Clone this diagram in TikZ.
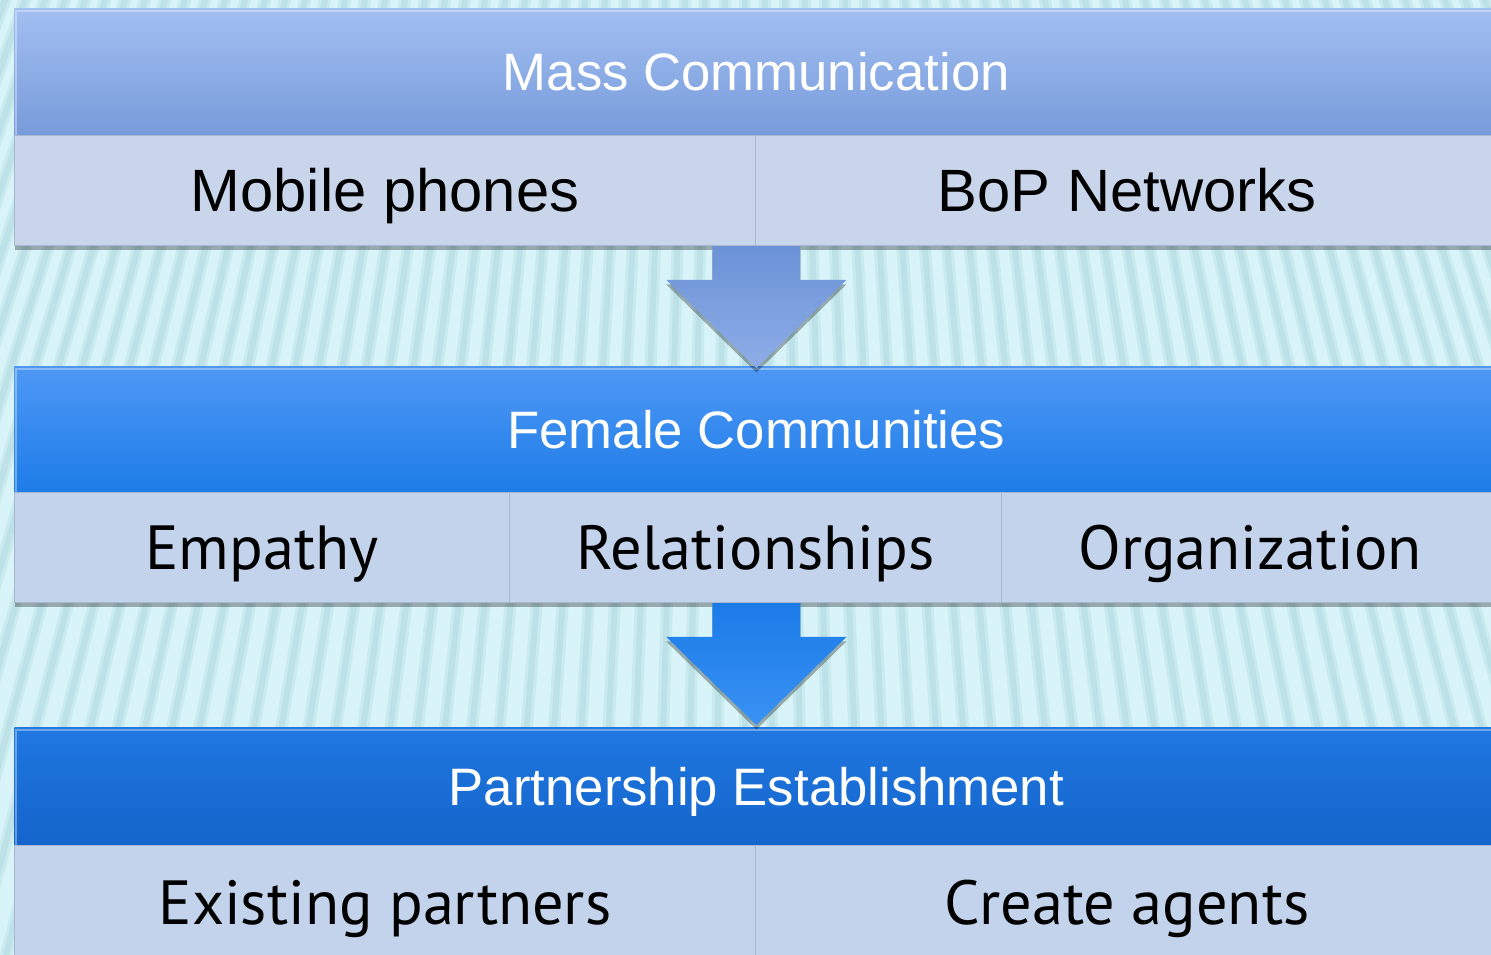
\documentclass[tikz,border=0pt]{standalone}
\usepackage{fontspec}
\setmainfont{Liberation Sans}
\newfontfamily\fgfont{PT Sans}
\usetikzlibrary{calc,shadows}
\definecolor{bgc}{HTML}{D8F4F8}
\definecolor{stripec}{HTML}{BCE1E7}
\definecolor{hAt}{HTML}{A3BFF2}
\definecolor{hAb}{HTML}{779BDA}
\definecolor{hBt}{HTML}{4E98F4}
\definecolor{hBb}{HTML}{1E7CE8}
\definecolor{hCt}{HTML}{2078E0}
\definecolor{hCb}{HTML}{1464CB}
\definecolor{rowA}{HTML}{C9D5EB}
\definecolor{rowB}{HTML}{C3D3EC}
\definecolor{cellline}{HTML}{A9B6CF}
\definecolor{arAt}{HTML}{6B92D6}
\definecolor{arAb}{HTML}{8EADE8}
\definecolor{arBt}{HTML}{1B7BE8}
\definecolor{arBb}{HTML}{3A92F4}
\tikzset{
  cw/.style={minimum width={#1*0.02cm}},
  ch/.style={minimum height={#1*0.02cm}},
  boxshadow/.style={drop shadow={shadow xshift=0pt,shadow yshift=-0.09cm,opacity=0.3,fill=black}},
  header/.style={anchor=north west, inner sep=0pt, text=white, boxshadow,
    text height=21.5pt, text depth=-1.5pt,
    font=\fontsize{30}{36}\selectfont},
  cell/.style={anchor=north west, inner sep=0pt, fill=#1, draw=cellline, line width=0.6pt, boxshadow,
    text height=24.8pt, text depth=-1.5pt,
    font=\fgfont\fontsize{35.5}{40}\selectfont},
  arialcell/.style={cell=#1, text height=24.3pt, font=\fontsize{34}{40}\selectfont},
  downarrow/.style={boxshadow, draw=none},
  stripesoft/.style={line width=0.24cm, stripec, opacity=0.5},
  stripe/.style={line width=0.12cm, stripec}
}
\begin{document}
\begin{tikzpicture}[x=0.02cm,y=-0.02cm]
\useasboundingbox (0,0) rectangle (1491,955);
\fill[bgc] (0,0) rectangle (1491,955);
\begin{scope}
\clip (0,0) rectangle (1491,955);
\foreach \i in {-70,...,70}{
  \draw[stripesoft] (745,-2000) -- (745+\i*31,1100);
  \draw[stripe] (745,-2000) -- (745+\i*31,1100);
}
\end{scope}

% level 1
\node[header, top color=hAt, bottom color=hAb, cw=1484, ch=127] (h1) at (14,8) {Mass Communication};
\node[arialcell=rowA, cw=741, ch=110] (r1a) at (14,135) {Mobile phones};
\node[arialcell=rowA, cw=743, ch=110] (r1b) at (755,135) {BoP Networks};

% level 2
\node[header, top color=hBt, bottom color=hBb, cw=1484, ch=126] (h2) at (14,366) {Female Communities};
\node[cell=rowB, cw=495, ch=110] (r2a) at (14,492) {Empathy};
\node[cell=rowB, cw=492, ch=110] (r2b) at (509,492) {Relationships};
\node[cell=rowB, cw=497, ch=110] (r2c) at (1001,492) {Organization};

% level 3
\node[header, top color=hCt, bottom color=hCb, cw=1484, ch=118] (h3) at (14,727) {Partnership Establishment};
\node[cell=rowB, cw=741, ch=115] (r3a) at (14,845) {Existing partners};
\node[cell=rowB, cw=743, ch=115] (r3b) at (755,845) {Create agents};

% highlights on headers
\foreach \h in {h1,h2,h3}
  \draw[white, opacity=0.35, line width=1.2pt]
    ($(\h.south west)+(2,-1)$) -- ($(\h.north west)+(2,3)$) -- ($(\h.north east)+(0,3)$);

% arrows
\path[downarrow, top color=arAt, bottom color=arAb]
  ($(r1a.south -| h2.north)+(-44,0)$) -- ($(r1a.south -| h2.north)+(44,0)$)
  -- ($(h2.north)+(44,-86)$) -- ($(h2.north)+(90,-86)$) -- ($(h2.north)+(0,2)$)
  -- ($(h2.north)+(-90,-86)$) -- ($(h2.north)+(-44,-86)$) -- cycle;
\path[downarrow, top color=arBt, bottom color=arBb]
  ($(r2b.south -| h3.north)+(-44,0)$) -- ($(r2b.south -| h3.north)+(44,0)$)
  -- ($(h3.north)+(44,-90)$) -- ($(h3.north)+(90,-90)$) -- ($(h3.north)+(0,-2)$)
  -- ($(h3.north)+(-90,-90)$) -- ($(h3.north)+(-44,-90)$) -- cycle;
\end{tikzpicture}
\end{document}
